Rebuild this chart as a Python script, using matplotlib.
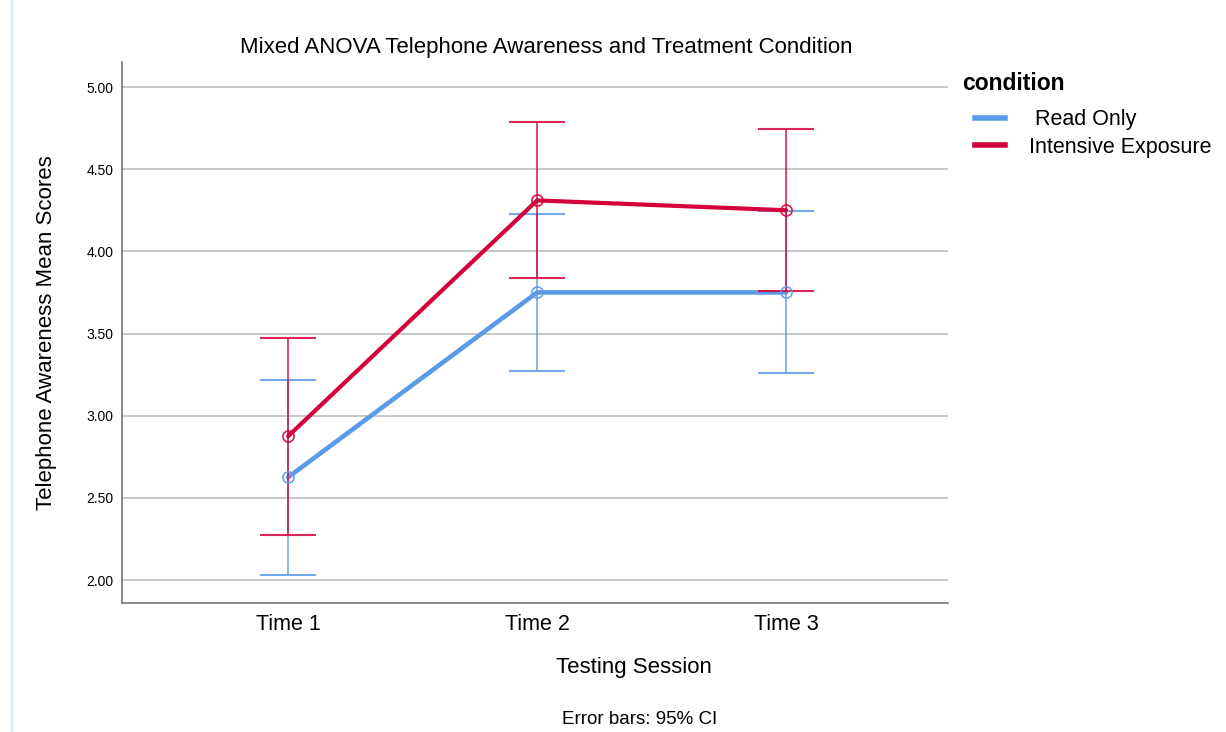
import matplotlib
matplotlib.use("Agg")
import matplotlib.pyplot as plt
from matplotlib.lines import Line2D

sessions = ["Time 1", "Time 2", "Time 3"]
conditions = ["Read Only", "Intensive Exposure"]
read_mean = [2.625, 3.75, 3.75]
read_lo = [2.03, 3.27, 3.26]
read_hi = [3.22, 4.23, 4.245]
int_mean = [2.875, 4.31, 4.25]
int_lo = [2.275, 3.835, 3.76]
int_hi = [3.475, 4.79, 4.745]
yticks = [2.0, 2.5, 3.0, 3.5, 4.0, 4.5, 5.0]

colors = ["#5b9be6", "#d5003a"]

plt.rcParams['font.family'] = ['Liberation Sans', 'DejaVu Sans']
fig = plt.figure(figsize=(12.26, 7.32), dpi=100)
ax = fig.add_axes([122/1226, 1-603/732, (948-122)/1226, (603-62)/732])

x = list(range(len(sessions)))
series = [(read_mean, read_lo, read_hi), (int_mean, int_lo, int_hi)]
for i, (m, lo, hi) in enumerate(series):
    c = colors[i]
    yerr = [[mm - l for mm, l in zip(m, lo)], [h - mm for mm, h in zip(m, hi)]]
    ax.errorbar(x, m, yerr=yerr, fmt='none', ecolor=c, elinewidth=1.2,
                capsize=20, capthick=1.5, alpha=0.85, zorder=3 + i)
    ax.plot(x, m, color=c, lw=3.3 if i == 0 else 3.0, zorder=4 + i,
            solid_capstyle='round')
    ax.plot(x, m, 'o', mfc='none', mec=c, ms=8, mew=1.2, zorder=5 + i, alpha=0.9)

ax.set_xlim(-0.667, 2.65)
ax.set_ylim(2 - 23/164.33, 2 + (580-62)/164.33)
ax.set_yticks(yticks)
ax.set_yticklabels([f"{v:.2f}" for v in yticks], fontsize=10)
ax.set_xticks(x)
ax.set_xticklabels(sessions, fontsize=15.5)
ax.tick_params(axis='both', length=0)
ax.tick_params(axis='x', pad=8)
ax.tick_params(axis='y', pad=6)
ax.yaxis.grid(True, color='#c4c4c4', lw=1.3)
ax.set_axisbelow(True)
for s in ['top', 'right']:
    ax.spines[s].set_visible(False)
for s in ['left', 'bottom']:
    ax.spines[s].set_color('#777777')
    ax.spines[s].set_linewidth(1.2)

ax.set_ylabel("Telephone Awareness Mean Scores", fontsize=16, labelpad=21)
fig.text(546/1226, 1-48/732, "Mixed ANOVA Telephone Awareness and Treatment Condition",
         ha='center', va='center', fontsize=16)
fig.text(634/1226, 1-668/732, "Testing Session", ha='center', va='center', fontsize=16)
fig.text(640/1226, 1-719/732, "Error bars: 95% CI", ha='center', va='center', fontsize=13.5)

fig.text(962/1226, 1-84/732, "condition", ha='left', va='center', fontsize=16.5,
         fontweight='bold')
handles = [Line2D([], [], color=colors[0], lw=4),
           Line2D([], [], color=colors[1], lw=4)]
leg = fig.legend(handles, [" " + conditions[0], conditions[1]], loc='center left',
                 bbox_to_anchor=(975/1226, 1-133.5/732), frameon=False,
                 fontsize=15.5, handlelength=1.4, handletextpad=1.1,
                 labelspacing=0.3, borderpad=0, borderaxespad=0)

fig.add_artist(Line2D([12/1226, 12/1226], [0, 1], color='#dbe9f7', lw=1.5,
                      transform=fig.transFigure))

fig.savefig("out.png", dpi=100)
